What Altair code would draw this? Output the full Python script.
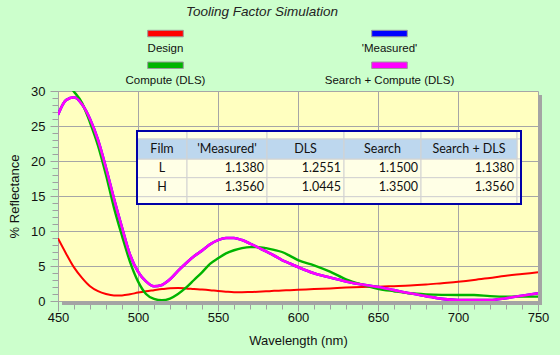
import altair as alt
import pandas as pd

# ---------------- data ----------------
wavelength = [450, 455, 460, 465, 470, 475, 480, 485, 490, 495, 500, 505, 510, 515,
              520, 525, 530, 535, 540, 545, 550, 555, 560, 565, 570, 575, 580, 585,
              590, 595, 600, 610, 620, 630, 640, 650, 660, 670, 680, 690, 700, 710,
              720, 730, 740, 750]
design = [8.95, 6.8, 4.8, 3.3, 2.1, 1.4, 1.0, 0.8, 0.8, 0.95, 1.2, 1.4, 1.55, 1.7,
          1.82, 1.85, 1.8, 1.72, 1.65, 1.55, 1.42, 1.33, 1.26, 1.25, 1.28, 1.32, 1.38, 1.45,
          1.5, 1.55, 1.6, 1.7, 1.8, 1.92, 2.0, 2.05, 2.12, 2.2, 2.35, 2.55, 2.75, 3.0,
          3.3, 3.6, 3.85, 4.1]
measured = [26.6, 28.7, 29.1, 28.1, 26.0, 23.0, 19.0, 14.6, 10.5, 6.6, 4.2, 2.8, 2.1, 2.3,
            3.1, 4.3, 5.4, 6.4, 7.2, 8.1, 8.7, 9.0, 9.0, 8.7, 8.2, 7.65, 7.1, 6.5,
            5.85, 5.35, 4.85, 3.95, 3.35, 2.8, 2.35, 2.0, 1.55, 1.1, 0.7, 0.3, 0.13, 0.12,
            0.14, 0.4, 0.75, 1.1]
compute_dls = [32.5, 31.2, 29.9, 28.3, 25.5, 22.2, 18.0, 13.3, 9.3, 5.6, 2.8, 1.0, 0.3, 0.1,
               0.35, 1.0, 1.9, 3.0, 4.1, 5.3, 6.1, 6.8, 7.25, 7.55, 7.7, 7.7, 7.55, 7.3,
               7.0, 6.45, 5.85, 5.1, 4.2, 3.1, 2.35, 1.75, 1.4, 1.1, 0.95, 0.88, 0.86, 0.86,
               0.7, 0.62, 0.62, 0.62]
search_compute = [26.6, 28.7, 29.1, 28.1, 26.0, 23.0, 19.0, 14.6, 10.5, 6.6, 4.2, 2.8, 2.1, 2.3,
                  3.1, 4.3, 5.4, 6.4, 7.2, 8.1, 8.7, 9.0, 9.0, 8.7, 8.2, 7.65, 7.1, 6.5,
                  5.85, 5.35, 4.85, 3.95, 3.35, 2.8, 2.35, 2.0, 1.55, 1.1, 0.7, 0.3, 0.13, 0.12,
                  0.14, 0.4, 0.75, 1.1]

series_names = ["Design", "'Measured'", "Compute (DLS)", "Search + Compute (DLS)"]
series_colors = ["#FF0000", "#0000FF", "#00B400", "#FF00FF"]
series_widths = [2.0, 2.6, 2.4, 2.6]

table_headers = ["Film", "'Measured'", "DLS", "Search", "Search + DLS"]
table_films = ["L", "H"]
tf_measured = [1.1380, 1.3560]
tf_dls = [1.2551, 1.0445]
tf_search = [1.1500, 1.3500]
tf_search_dls = [1.1380, 1.3560]

x_major = [450, 500, 550, 600, 650, 700, 750]
y_major = [0, 5, 10, 15, 20, 25, 30]
x_minor = list(range(450, 751, 10))
y_minor = list(range(0, 31, 1))

chart_title = "Tooling Factor Simulation"
x_title = "Wavelength (nm)"
y_title = "% Reflectance"

# ---------------- layout ----------------
PL, PT, PW, PH = 58, 91, 480, 210
XMIN, XMAX, YMIN, YMAX = 450, 750, 0, 30
FONT = "Liberation Sans"
TFONT = "Lato"


def nx(px):
    return XMIN + (px - PL) * (XMAX - XMIN) / PW


def ry(py):
    return YMIN + (PT + PH - py) * (YMAX - YMIN) / PH


xs = alt.Scale(domain=[XMIN, XMAX], nice=False, zero=False)
ys = alt.Scale(domain=[YMIN, YMAX], nice=False, zero=False)


def rect_layer(frame, **mark):
    return alt.Chart(frame).mark_rect(clip=False, **mark).encode(
        x=alt.X("x:Q", scale=xs, axis=None), x2="x2:Q",
        y=alt.Y("y:Q", scale=ys, axis=None), y2="y2:Q",
    )


def text_layer(frame, **mark):
    return alt.Chart(frame).mark_text(clip=False, baseline="middle", **mark).encode(
        x=alt.X("x:Q", scale=xs, axis=None), y=alt.Y("y:Q", scale=ys, axis=None),
        text="t:N",
    )


# ---------------- curves ----------------
all_series = [design, measured, compute_dls, search_compute]
rows = []
for name, vals in zip(series_names, all_series):
    for w, v in zip(wavelength, vals):
        rows.append({"wl": w, "r": v, "series": name})
df = pd.DataFrame(rows)

major_x = alt.Axis(values=x_major, orient="bottom", grid=True, gridColor="#A6A6A6",
                   gridWidth=1, domain=False, ticks=True, tickSize=10, tickColor="#A0A0A0",
                   labelFont=FONT, labelFontSize=13, labelColor="#111111", labelPadding=0,
                   labelBaseline="top", labelFlush=False,
                   title=x_title, titleFont=FONT, titleFontSize=13, titleFontWeight="normal",
                   titleColor="#111111", titleY=39, titleBaseline="middle")
major_y = alt.Axis(values=y_major, orient="left", grid=True, gridColor="#A6A6A6",
                   gridWidth=1, domain=True, domainColor="#A6A6A6", ticks=True, tickSize=8,
                   tickColor="#A0A0A0", labelFont=FONT, labelFontSize=13,
                   labelColor="#111111", labelPadding=5, labelFlush=False,
                   title=y_title, titleFont=FONT, titleFontSize=13, titleFontWeight="normal",
                   titleColor="#111111", titleX=-44, titleY=PH / 2, titleBaseline="middle",
                   titleAlign="center")
minor_x = alt.Axis(values=x_minor, orient="bottom", grid=False, domain=False, labels=False,
                   ticks=True, tickSize=8, tickColor="#A0A0A0", title="")
minor_y = alt.Axis(values=y_minor, orient="left", grid=False, domain=False, labels=False,
                   ticks=True, tickSize=6, tickColor="#A0A0A0", title="")

minor_layer = alt.Chart(df).mark_point(opacity=0).encode(
    x=alt.X("wl:Q", scale=xs, axis=minor_x),
    y=alt.Y("r:Q", scale=ys, axis=minor_y),
)

curve_layers = []
for i, (name, col, sw) in enumerate(zip(series_names, series_colors, series_widths)):
    sub = df[df["series"] == name]
    c = alt.Chart(sub).mark_line(clip=True, interpolate="monotone", color=col,
                                 strokeWidth=sw, strokeJoin="round").encode(
        x=alt.X("wl:Q", scale=xs, axis=major_x if i == 0 else None),
        y=alt.Y("r:Q", scale=ys, axis=major_y if i == 0 else None),
    )
    curve_layers.append(c)

# ---------------- plot shadow ----------------
sh = 4
shadow_df = pd.DataFrame({
    "x": [nx(PL + sh), XMAX],
    "x2": [nx(PL + PW + sh), nx(PL + PW + sh)],
    "y": [ry(PT + PH + sh), ry(PT + PH + sh)],
    "y2": [YMIN, ry(PT + sh)],
})
shadow = rect_layer(shadow_df, color="#A4A4A4")

# ---------------- title ----------------
title_df = pd.DataFrame({"x": [nx(262)], "y": [ry(12)], "t": [chart_title]})
title = text_layer(title_df, font=FONT, fontSize=13.5, fontStyle="italic",
                   color="#222222", align="center")

# ---------------- legend ----------------
leg_cx = [165.5, 389.5, 165.5, 389.5]
leg_sym_top = [30.3, 30.3, 62.0, 62.0]
leg_lab_y = [48.7, 48.7, 80.7, 80.7]
leg_layers = []
for k, (name, col) in enumerate(zip(series_names, series_colors)):
    sym_df = pd.DataFrame({"x": [nx(leg_cx[k] - 17.8)], "x2": [nx(leg_cx[k] + 17.8)],
                           "y": [ry(leg_sym_top[k])], "y2": [ry(leg_sym_top[k] + 6.5)]})
    leg_layers.append(rect_layer(sym_df, color=col, stroke="#9A9A9A", strokeWidth=1))
    lab_df = pd.DataFrame({"x": [nx(leg_cx[k])], "y": [ry(leg_lab_y[k])], "t": [name]})
    leg_layers.append(text_layer(lab_df, font=FONT, fontSize=11.5, color="#111111",
                                 align="center"))

# ---------------- table ----------------
col_px = [137, 187, 267, 344, 421, 517, 521]
row_px = [131, 139, 159, 177.7, 196.7, 204]
head_cells, body_cells = [], []
for ri in range(len(row_px) - 1):
    for ci in range(len(col_px) - 1):
        cell = {"x": nx(col_px[ci]), "x2": nx(col_px[ci + 1]),
                "y": ry(row_px[ri]), "y2": ry(row_px[ri + 1])}
        if ri == 1 and ci < len(col_px) - 2:
            head_cells.append(cell)
        else:
            body_cells.append(cell)
table_body = rect_layer(pd.DataFrame(body_cells), color="#FFFFE6", stroke="#D2D2D2",
                        strokeWidth=1)
table_headbg = rect_layer(pd.DataFrame(head_cells), color="#BDD7EE", stroke="#D2D2D2",
                          strokeWidth=1)
border_df = pd.DataFrame({"x": [nx(col_px[0])], "x2": [nx(col_px[-1])],
                          "y": [ry(row_px[0])], "y2": [ry(row_px[-1])]})
table_border = rect_layer(border_df, fillOpacity=0, stroke="#0000A8", strokeWidth=2)

head_y = (row_px[1] + row_px[2]) / 2
head_df = pd.DataFrame({
    "x": [nx((col_px[i] + col_px[i + 1]) / 2) for i in range(5)],
    "y": [ry(head_y)] * 5,
    "t": table_headers,
})
table_head = text_layer(head_df, font=TFONT, fontSize=12.5, color="#111111", align="center")

film_rows, val_rows = [], []
for k, film in enumerate(table_films):
    yy = ry((row_px[2 + k] + row_px[3 + k]) / 2)
    film_rows.append({"x": nx((col_px[0] + col_px[1]) / 2), "y": yy, "t": film})
    for ci, vals in enumerate([tf_measured, tf_dls, tf_search, tf_search_dls]):
        val_rows.append({"x": nx(col_px[ci + 2] - 3), "y": yy, "t": f"{vals[k]:.4f}"})
table_film = text_layer(pd.DataFrame(film_rows), font=TFONT, fontSize=12.5,
                        color="#111111", align="center")
table_vals = text_layer(pd.DataFrame(val_rows), font=TFONT, fontSize=12.5,
                        color="#111111", align="right")

chart = alt.layer(
    minor_layer, *curve_layers, shadow, table_body, table_headbg, table_border, table_head,
    table_film, table_vals, *leg_layers, title,
).resolve_axis(x="independent", y="independent").properties(
    width=PW, height=PH,
    autosize=alt.AutoSizeParams(type="none"),
    padding={"left": PL, "top": PT, "right": 560 - PL - PW, "bottom": 355 - PT - PH},
    background="#CCFFCC",
).configure_view(fill="#FFFFC0", strokeWidth=0)

chart.save("out.html", embed_options={"renderer": "svg", "actions": False})
